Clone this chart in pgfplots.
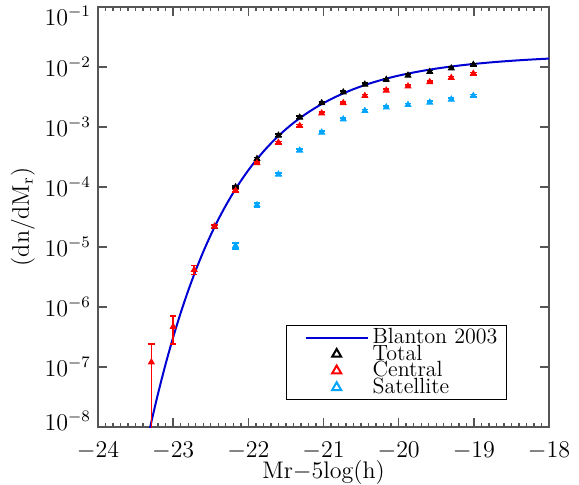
\documentclass[border=0pt]{standalone}
\usepackage{pgfplots}
\pgfplotsset{compat=1.18}
\definecolor{lineblue}{RGB}{0,0,210}
\definecolor{satblue}{RGB}{0,165,255}
\definecolor{axgray}{RGB}{85,85,85}
\pgfplotsset{
  legline/.style={legend image code/.code={\path[draw=none,fill=none] (0pt,0pt) -- (7pt,0pt); \draw[##1] (7pt,0pt) -- (38pt,0pt);}},
  legmark/.style={legend image code/.code={\path[draw=none,fill=none] (0pt,0pt) -- (38pt,0pt); \draw[mark repeat=2,mark phase=2,##1] plot coordinates {(7pt,0pt) (22.5pt,0pt) (38pt,0pt)};}},
}
\newcommand{\xs}{\rule{0pt}{11.5pt}}
\begin{document}
\begin{tikzpicture}
\begin{axis}[
  scale only axis, width=225.5pt, height=210pt,
  xmin=-24, xmax=-18, ymin=-8, ymax=-1,
  xtick={-24,-23,-22,-21,-20,-19,-18},
  xticklabels={\xs$-24$,\xs$-23$,\xs$-22$,\xs$-21$,\xs$-20$,\xs$-19$,\xs$-18$},
  minor x tick num=9,
  ytick={-8,-7,-6,-5,-4,-3,-2,-1},
  yticklabels={\raisebox{3pt}[\height][\depth]{$10^{-8}$},$10^{-7}$,$10^{-6}$,$10^{-5}$,$10^{-4}$,$10^{-3}$,$10^{-2}$,\raisebox{-4.5pt}[\height][\depth]{$10^{-1}$}},
  tick label style={font=\large},
  tick align=inside,
  major tick length=4.5pt, minor tick length=2.2pt,
  axis line style={axgray, line width=0.9pt},
  every tick/.style={axgray, line width=0.7pt},
  xlabel={Mr$-$5log(h)},
  ylabel={(dn/dM$_\mathrm{r}$)},
  label style={font=\large},
  xlabel style={at={(axis description cs:0.5,-0.1238)}, anchor=base},
  ylabel style={at={(axis description cs:-0.153,0.5)}, anchor=base},
  legend style={at={(axis description cs:0.417,0.243)}, anchor=north west,
    draw=black, line width=0.6pt, row sep=-0.9pt, inner xsep=2.5pt, inner ysep=1.5pt,
    nodes={inner xsep=2pt, inner ysep=0pt},
    font=\fontsize{11}{13}\selectfont},
  legend cell align=left,
  error bars/error bar style={line width=0.8pt},
  error bars/error mark options={rotate=90, mark size=1.6pt, line width=0.8pt},
]
\addlegendimage{lineblue, line width=1pt, legline}
\addlegendentry{Blanton 2003}
\addlegendimage{black, only marks, mark=triangle, mark size=2.6pt, line width=1pt, legmark}
\addlegendentry{Total}
\addlegendimage{red, only marks, mark=triangle, mark size=2.6pt, line width=1pt, legmark}
\addlegendentry{Central}
\addlegendimage{satblue, only marks, mark=triangle, mark size=2.6pt, line width=1pt, legmark}
\addlegendentry{Satellite}

% Blanton 2003 Schechter fit (log10 values)
\addplot[lineblue, line width=1pt, smooth, forget plot] coordinates {
(-23.4,-8.556) (-23.3,-7.971) (-23.2,-7.436) (-23.1,-6.949) (-23.0,-6.504)
(-22.9,-6.098) (-22.8,-5.727) (-22.7,-5.390) (-22.6,-5.081) (-22.5,-4.800)
(-22.4,-4.543) (-22.3,-4.309) (-22.2,-4.095) (-22.1,-3.899) (-22.0,-3.721)
(-21.9,-3.558) (-21.8,-3.410) (-21.7,-3.274) (-21.6,-3.150) (-21.5,-3.037)
(-21.4,-2.933) (-21.3,-2.839) (-21.2,-2.753) (-21.1,-2.674) (-21.0,-2.601)
(-20.8,-2.475) (-20.6,-2.369) (-20.4,-2.280) (-20.2,-2.206) (-20.0,-2.143)
(-19.75,-2.079) (-19.5,-2.0265) (-19.25,-1.9839) (-19.0,-1.9491)
(-18.75,-1.9204) (-18.5,-1.8965) (-18.25,-1.8766) (-18.0,-1.8597)
};

% Total
\addplot[black, only marks, mark=triangle*, mark size=1.7pt, forget plot,
  error bars/.cd, y dir=both, y explicit] coordinates {
(-22.45,-4.66) +- (0,0.03)
(-22.17,-4.00) +- (0,0.02)
(-21.885,-3.53) +- (0,0.02)
(-21.60,-3.14) +- (0,0.02)
(-21.317,-2.84) +- (0,0.02)
(-21.024,-2.60) +- (0,0.02)
(-20.737,-2.42) +- (0,0.02)
(-20.45,-2.29) +- (0,0.02)
(-20.165,-2.21) +- (0,0.02)
(-19.876,-2.14) +- (0,0.02)
(-19.587,-2.08) +- (0,0.02)
(-19.30,-2.02) +- (0,0.02)
(-19.007,-1.96) +- (0,0.02)
};

% Central
\addplot[red, only marks, mark=triangle*, mark size=1.7pt, forget plot,
  error bars/.cd, y dir=both, y explicit] coordinates {
(-23.29,-6.92) += (0,0.30) -= (0,2.0)
(-23.00,-6.33) += (0,0.18) -= (0,0.29)
(-22.72,-5.38) += (0,0.07) -= (0,0.08)
(-22.45,-4.66) +- (0,0.03)
(-22.17,-4.06) +- (0,0.02)
(-21.885,-3.60) +- (0,0.02)
(-21.60,-3.26) +- (0,0.02)
(-21.317,-2.98) +- (0,0.02)
(-21.024,-2.77) +- (0,0.02)
(-20.737,-2.60) +- (0,0.02)
(-20.45,-2.48) +- (0,0.02)
(-20.165,-2.39) +- (0,0.02)
(-19.876,-2.32) +- (0,0.02)
(-19.587,-2.25) +- (0,0.02)
(-19.30,-2.18) +- (0,0.02)
(-19.007,-2.11) +- (0,0.02)
};

% Satellite
\addplot[satblue, only marks, mark=triangle*, mark size=1.7pt, forget plot,
  error bars/.cd, y dir=both, y explicit] coordinates {
(-22.17,-4.98) +- (0,0.05)
(-21.885,-4.30) +- (0,0.03)
(-21.60,-3.79) +- (0,0.02)
(-21.317,-3.39) +- (0,0.02)
(-21.024,-3.09) +- (0,0.02)
(-20.737,-2.87) +- (0,0.02)
(-20.45,-2.73) +- (0,0.02)
(-20.165,-2.67) +- (0,0.02)
(-19.876,-2.63) +- (0,0.02)
(-19.587,-2.59) +- (0,0.02)
(-19.30,-2.54) +- (0,0.02)
(-19.007,-2.48) +- (0,0.02)
};
\end{axis}
\pgfresetboundingbox
\path ([xshift=-49pt,yshift=-28.5pt]current axis.south west) rectangle ([xshift=15pt,yshift=3.5pt]current axis.north east);
\end{tikzpicture}
\end{document}
